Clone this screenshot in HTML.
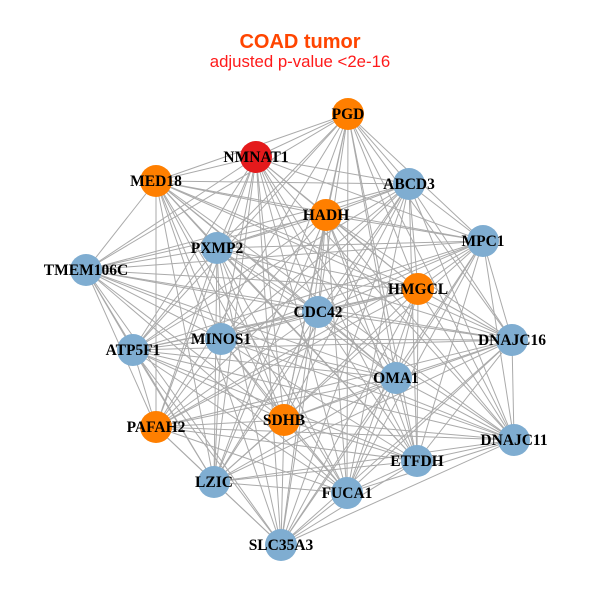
<!DOCTYPE html>
<html><head><meta charset="utf-8"><style>
html,body{margin:0;padding:0;background:#fff;width:600px;height:600px;overflow:hidden}
</style></head><body>
<svg id="s" width="600" height="600" xmlns="http://www.w3.org/2000/svg">
<rect width="600" height="600" fill="#fff"/>
<text x="300" y="48" text-anchor="middle" font-family="Liberation Sans, sans-serif" font-weight="bold" font-size="20" fill="#ff4500">COAD tumor</text>
<text x="300" y="67" text-anchor="middle" font-family="Liberation Sans, sans-serif" font-size="16.8" fill="#ff1a1a">adjusted p-value &lt;2e-16</text>
<g id="e" stroke="#aaaaaa" stroke-width="1"></g>
<g id="n"></g>
</svg>
<script>
var N=[["PGD",348,114,"#ff7f00"],["NMNAT1",256,157,"#e41a1c"],["MED18",156,181,"#ff7f00"],["ABCD3",409,184,"#7fadd1"],["HADH",326,215,"#ff7f00"],["MPC1",483,241,"#7fadd1"],["PXMP2",217,248,"#7fadd1"],["TMEM106C",86,270,"#7fadd1"],["HMGCL",418,289,"#ff7f00"],["CDC42",318,312,"#7fadd1"],["MINOS1",221,339,"#7fadd1"],["DNAJC16",512,340,"#7fadd1"],["ATP5F1",133,350,"#7fadd1"],["OMA1",396,378,"#7fadd1"],["PAFAH2",156,427,"#ff7f00"],["SDHB",284,420,"#ff7f00"],["DNAJC11",514,440,"#7fadd1"],["ETFDH",417,461,"#7fadd1"],["LZIC",214,482,"#7fadd1"],["FUCA1",347,493,"#7fadd1"],["SLC35A3",281,545,"#7fadd1"]];
var ns="http://www.w3.org/2000/svg",e=document.getElementById("e"),g=document.getElementById("n");
for(var i=0;i<N.length;i++)for(var j=i+1;j<N.length;j++){
 if((i*7+j*3)%10==0)continue;
 var l=document.createElementNS(ns,"line");
 l.setAttribute("x1",N[i][1]);l.setAttribute("y1",N[i][2]);l.setAttribute("x2",N[j][1]);l.setAttribute("y2",N[j][2]);e.appendChild(l);}
N.forEach(function(d){var c=document.createElementNS(ns,"circle");c.setAttribute("cx",d[1]);c.setAttribute("cy",d[2]);c.setAttribute("r",16);c.setAttribute("fill",d[3]);g.appendChild(c);});
N.forEach(function(d){var t=document.createElementNS(ns,"text");t.setAttribute("x",d[1]);t.setAttribute("y",d[2]+5);t.setAttribute("text-anchor","middle");t.setAttribute("font-family","Liberation Serif, serif");t.setAttribute("font-weight","bold");t.setAttribute("font-size","15.5");t.textContent=d[0];g.appendChild(t);});
</script>
</body></html>
